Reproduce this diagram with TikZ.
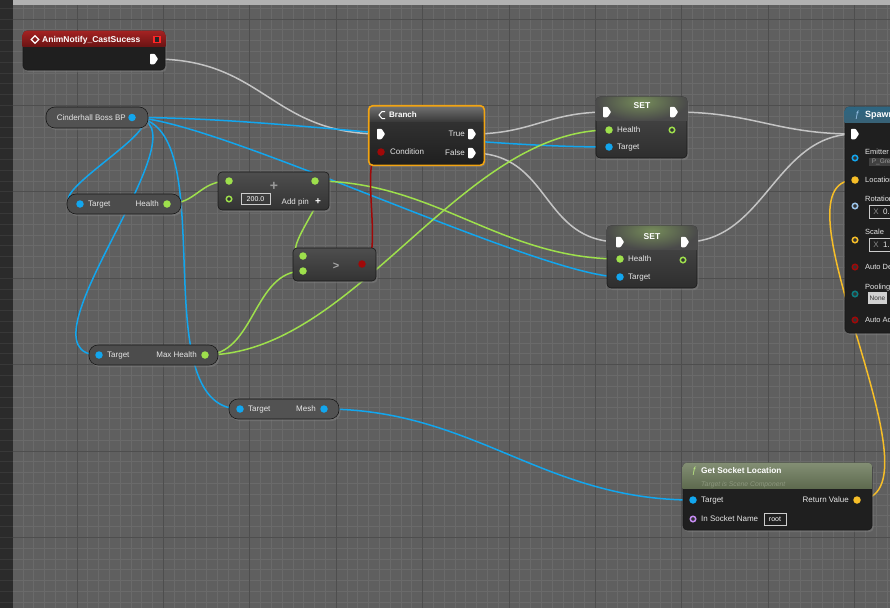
\documentclass[tikz,border=0pt]{standalone}
\usepackage{fontspec}
\setmainfont{Liberation Sans}
\usetikzlibrary{shapes.geometric}
\usetikzlibrary{shadows}

\definecolor{gridbg}{HTML}{5F5F5F}
\definecolor{gridminor}{HTML}{6A6A6A}
\definecolor{gridmajor}{HTML}{4E4E4E}
\definecolor{execgray}{HTML}{C4C4C4}
\definecolor{objblue}{HTML}{12A6EE}
\definecolor{floatgreen}{HTML}{9EE04C}
\definecolor{boolred}{HTML}{A00808}
\definecolor{vecyellow}{HTML}{F6BE28}
\definecolor{rotblue}{HTML}{9CC4EA}
\definecolor{namepurple}{HTML}{C68CF2}
\definecolor{enumteal}{HTML}{0C7C80}
\definecolor{lblgray}{HTML}{E6E6E6}
\definecolor{opTop}{HTML}{4E4E4E}
\definecolor{opBot}{HTML}{333333}
\definecolor{selorange}{HTML}{F2A412}
\definecolor{evtop}{HTML}{A42222}
\definecolor{evbot}{HTML}{6A1414}

\pgfdeclarelayer{bg}
\pgfdeclarelayer{wires}
\pgfsetlayers{bg,wires,main}

\tikzset{
  bpnode/.style={rounded corners=4pt, draw=black!90, line width=0.6pt, inner sep=0pt,
    drop shadow={shadow xshift=1.5pt, shadow yshift=-2pt, opacity=0.5}},
  varnode/.style={bpnode, rounded corners=9pt},
  opnode/.style={bpnode, top color=opTop, bottom color=opBot},
  execpin/.style={minimum width=8pt, minimum height=10.5pt, inner sep=0pt,
    path picture={\fill[white, rounded corners=0.8pt] (path picture bounding box.north west)
      -- ([xshift=-3.5pt]path picture bounding box.north east) -- (path picture bounding box.east)
      -- ([xshift=-3.5pt]path picture bounding box.south east) -- (path picture bounding box.south west) -- cycle;}},
  pinf/.style={circle, inner sep=0pt, minimum size=7.5pt, fill=#1},
  pinh/.style={circle, inner sep=0pt, minimum size=5.5pt, draw=#1, line width=1.5pt, fill=black!80},
  lbl/.style={inner sep=0pt, text=lblgray, font=\fontsize{8}{9}\selectfont},
  splbl/.style={lbl, anchor=mid west, font=\fontsize{7.5}{8}\selectfont},
  ttl/.style={inner sep=0pt, text=white, font=\bfseries\fontsize{8.5}{10}\selectfont},
  wire/.style={line width=1.5pt},
  valbox/.style={draw=white!80!black, line width=0.5pt, inner sep=0pt, text=white, font=\fontsize{7}{8}\selectfont},
}

% header strip clipped to the node outline
\newcommand{\nodehead}[3]{%
  \begin{scope}
    \clip[rounded corners=4pt] (#1.north west) rectangle (#1.south east);
    \shade[#3] (#1.north west) rectangle ([yshift=-#2]#1.north east);
  \end{scope}}

\begin{document}
\begin{tikzpicture}[x=1pt, y=-1pt]
\useasboundingbox (0,0) rectangle (890,608);

% grid
\begin{pgfonlayer}{bg}
\fill[gridbg] (0,0) rectangle (890,608);
\foreach \k in {-7,...,75}
  \draw[gridminor, line width=0.8pt] ({77+\k*10.8},0) -- ({77+\k*10.8},608);
\foreach \k in {-1,...,55}
  \draw[gridminor, line width=0.8pt] (0,{19+\k*10.8}) -- (890,{19+\k*10.8});
\foreach \k in {-1,...,9}
  \draw[gridmajor, line width=1pt] ({77+\k*86.4},0) -- ({77+\k*86.4},608);
\foreach \k in {0,...,7}
  \draw[gridmajor, line width=1pt] (0,{19+\k*86.4}) -- (890,{19+\k*86.4});
\fill[black!83] (0,0) rectangle (12.5,608);
\foreach \k in {-1,...,55}
  \draw[black!78, line width=0.8pt] (0,{19+\k*10.8}) -- (12.5,{19+\k*10.8});
\fill[black!30] (13,0) rectangle (890,4.5);
\end{pgfonlayer}

% event node
\node (cast) at (94,50.5) [bpnode, fill=black!88, minimum width=142pt, minimum height=39pt] {};
\nodehead{cast}{16pt}{top color=evtop, bottom color=evbot}
\node (castIcon) at (35,39.5) [diamond, draw=white, line width=1.1pt, inner sep=0pt, minimum size=8pt] {};
\node (castTitle) at (42,39.5) [ttl, anchor=mid west] {AnimNotify\_CastSucess};
\node (castDel) at (157,39.5) [draw=red!85!white, fill=black!85, line width=1.1pt, inner sep=0pt, minimum size=6pt] {};
\node (castExec) at (154,59) [execpin] {};

% self reference
\node (boss) at (97,117.5) [varnode, minimum width=102pt, minimum height=21pt,
  left color=black!68, middle color=objblue!45!black!75, right color=black!68] {};
\node (bossLbl) at (126,117.5) [lbl, anchor=mid east] {Cinderhall Boss BP};
\node (bossPin) at (132,117.5) [pinf=objblue] {};

% get Health
\node (hget) at (124,204) [varnode, minimum width=114pt, minimum height=20pt,
  left color=black!70, middle color=floatgreen!45!black!80, right color=black!70] {};
\node (hgetTgt) at (80,204) [pinf=objblue] {};
\node (hgetTgtLbl) at (88,204) [lbl, anchor=mid west] {Target};
\node (hgetLbl) at (159,204) [lbl, anchor=mid east] {Health};
\node (hgetOut) at (167,204) [pinf=floatgreen] {};

% add
\node (addn) at (273.5,191) [opnode, minimum width=111pt, minimum height=38pt] {};
\node (addA) at (229,181) [pinf=floatgreen] {};
\node (addB) at (229,199) [pinh=floatgreen] {};
\node (addVal) at (255.5,199) [valbox, minimum width=29pt, minimum height=11pt] {200.0};
\node (addPlusBig) at (274,186) [inner sep=0pt, text=black!40, font=\bfseries\fontsize{14}{14}\selectfont] {+};
\node (addPinLbl) at (309,202) [lbl, anchor=mid east] {Add pin};
\node (addPinPlus) at (318,202) [inner sep=0pt, text=white, font=\bfseries\fontsize{10}{10}\selectfont] {+};
\node (addOut) at (315,181) [pinf=floatgreen] {};

% greater
\node (gtn) at (334.5,264.5) [opnode, minimum width=83pt, minimum height=33pt] {};
\node (gtA) at (303,256) [pinf=floatgreen] {};
\node (gtB) at (303,271) [pinf=floatgreen] {};
\node (gtSym) at (336,266) [inner sep=0pt, text=black!35, font=\bfseries\fontsize{11}{11}\selectfont] {>};
\node (gtOut) at (362,264) [pinf=boolred] {};

% branch
\node (br) at (426.5,135.5) [bpnode, top color=black!78, bottom color=black!88, minimum width=115pt, minimum height=59pt] {};
\nodehead{br}{16pt}{top color=black!55, bottom color=black!78}
\draw[selorange, line width=1.6pt, rounded corners=4pt] (br.north west) rectangle (br.south east);
\draw[white, line width=1pt] (385,111.5) -- (382,111.5) -- (379,115) -- (382,118.5) -- (385,118.5);
\node (brTitle) at (389,115) [ttl, anchor=mid west, font=\bfseries\fontsize{8}{9}\selectfont] {Branch};
\node (brIn) at (381,134) [execpin] {};
\node (brTrueLbl) at (465,134) [lbl, anchor=mid east] {True};
\node (brTrue) at (472,134) [execpin] {};
\node (brCond) at (381,152) [pinf=boolred] {};
\node (brCondLbl) at (390,152) [lbl, anchor=mid west] {Condition};
\node (brFalseLbl) at (465,153) [lbl, anchor=mid east] {False};
\node (brFalse) at (472,153) [execpin] {};

% set Health (top)
\node (set1) at (641.5,127.5) [bpnode, top color=black!70, bottom color=black!82, minimum width=91pt, minimum height=61pt] {};
\begin{scope}
  \clip[rounded corners=4pt] (set1.north west) rectangle (set1.south east);
  \shade[inner color=floatgreen!45!black!75, outer color=black!71] ([yshift=14pt]set1.north west) rectangle ([yshift=-24pt]set1.north east);
\end{scope}
\node (set1Title) at (642,106) [ttl] {SET};
\node (s1In) at (607,112) [execpin] {};
\node (s1Out) at (674,112) [execpin] {};
\node (s1Hp) at (609,130) [pinf=floatgreen] {};
\node (s1HpLbl) at (617,130) [lbl, anchor=mid west] {Health};
\node (s1Ho) at (672,130) [pinh=floatgreen] {};
\node (s1Tgt) at (609,147) [pinf=objblue] {};
\node (s1TgtLbl) at (617,147) [lbl, anchor=mid west] {Target};

% set Health (bottom)
\node (set2) at (652,257) [bpnode, top color=black!70, bottom color=black!82, minimum width=90pt, minimum height=62pt] {};
\begin{scope}
  \clip[rounded corners=4pt] (set2.north west) rectangle (set2.south east);
  \shade[inner color=floatgreen!45!black!75, outer color=black!71] ([yshift=14pt]set2.north west) rectangle ([yshift=-24pt]set2.north east);
\end{scope}
\node (set2Title) at (652,237) [ttl] {SET};
\node (s2In) at (620,242) [execpin] {};
\node (s2Out) at (685,242) [execpin] {};
\node (s2Hp) at (620,259) [pinf=floatgreen] {};
\node (s2HpLbl) at (628,259) [lbl, anchor=mid west] {Health};
\node (s2Ho) at (683,260) [pinh=floatgreen] {};
\node (s2Tgt) at (620,277) [pinf=objblue] {};
\node (s2TgtLbl) at (628,277) [lbl, anchor=mid west] {Target};

% spawn emitter
\node (spawn) at (922.5,220) [bpnode, fill=black!88, minimum width=155pt, minimum height=226pt] {};
\nodehead{spawn}{16pt}{top color=objblue!45!black!85!white, bottom color=objblue!35!black!80}
\node (spF) at (857,115) [inner sep=0pt, text=rotblue, font=\itshape\fontsize{9}{9}\selectfont] {ƒ};
\node (spTitle) at (865,115) [ttl, anchor=mid west, font=\bfseries\fontsize{9}{10}\selectfont] {Spawn};
\node (spIn) at (855,134) [execpin] {};
\node (spEm) at (855,158) [pinh=objblue] {};
\node (spEmLbl) at (865,152) [splbl] {Emitter};
\node (spEmBox) at (869,162) [anchor=west, fill=black!75, text=black!40, inner sep=1pt, minimum width=24pt, align=left, font=\fontsize{6.5}{7}\selectfont] {P\_Gre};
\node (spLoc) at (855,180) [pinf=vecyellow] {};
\node (spLocLbl) at (865,180) [splbl] {Location};
\node (spRot) at (855,206) [pinh=rotblue] {};
\node (spRotLbl) at (865,199) [splbl] {Rotation};
\node (spRotBox) at (869,212) [valbox, anchor=west, minimum width=40pt, minimum height=13pt] {};
\node (spRotX) at (876,212) [lbl, text=black!45] {X};
\node (spRotV) at (883,212) [lbl, anchor=mid west, font=\fontsize{8}{9}\selectfont] {0.};
\node (spScl) at (855,240) [pinh=vecyellow] {};
\node (spSclLbl) at (865,232) [splbl] {Scale};
\node (spSclBox) at (869,245) [valbox, anchor=west, minimum width=40pt, minimum height=13pt] {};
\node (spSclX) at (876,245) [lbl, text=black!45] {X};
\node (spSclV) at (883,245) [lbl, anchor=mid west, font=\fontsize{8}{9}\selectfont] {1.};
\node (spAD) at (855,267) [pinh=boolred] {};
\node (spADLbl) at (865,267) [splbl] {Auto Destroy};
\node (spPool) at (855,294) [pinh=enumteal] {};
\node (spPoolLbl) at (865,287) [splbl] {Pooling Method};
\node (spPoolBox) at (868,298) [anchor=west, fill=black!18, text=black!80, inner sep=1.5pt, minimum height=12pt, font=\fontsize{6.5}{7}\selectfont] {None};
\node (spAA) at (855,320) [pinh=boolred] {};
\node (spAALbl) at (865,320) [splbl] {Auto Activate};

% get Max Health
\node (mhget) at (153.5,355) [varnode, minimum width=129pt, minimum height=20pt,
  left color=black!70, middle color=floatgreen!45!black!80, right color=black!70] {};
\node (mhTgt) at (99,355) [pinf=objblue] {};
\node (mhTgtLbl) at (107,355) [lbl, anchor=mid west] {Target};
\node (mhLbl) at (197,355) [lbl, anchor=mid east] {Max Health};
\node (mhOut) at (205,355) [pinf=floatgreen] {};

% get Mesh
\node (mget) at (284,409) [varnode, minimum width=110pt, minimum height=20pt,
  left color=black!68, middle color=objblue!45!black!75, right color=black!68] {};
\node (mgTgt) at (240,409) [pinf=objblue] {};
\node (mgTgtLbl) at (248,409) [lbl, anchor=mid west] {Target};
\node (mgLbl) at (316,409) [lbl, anchor=mid east] {Mesh};
\node (mgOut) at (324,409) [pinf=objblue] {};

% get socket location
\node (gsl) at (777.5,496.5) [bpnode, fill=black!88, minimum width=189pt, minimum height=67pt] {};
\nodehead{gsl}{26pt}{top color=floatgreen!30!black!60!white, bottom color=floatgreen!25!black!75}
\node (gslF) at (694,471) [inner sep=0pt, text=floatgreen!70!white, font=\itshape\fontsize{9}{9}\selectfont] {ƒ};
\node (gslTitle) at (701,471) [ttl, anchor=mid west, font=\bfseries\fontsize{8.3}{10}\selectfont] {Get Socket Location};
\node (gslSub) at (701,484) [inner sep=0pt, anchor=mid west, text=floatgreen!30!black!55!white, font=\itshape\fontsize{6.8}{8}\selectfont] {Target is Scene Component};
\node (gslTgt) at (693,500) [pinf=objblue] {};
\node (gslTgtLbl) at (701,500) [lbl, anchor=mid west] {Target};
\node (gslRetLbl) at (849,500) [lbl, anchor=mid east] {Return Value};
\node (gslRet) at (857,500) [pinf=vecyellow] {};
\node (gslSock) at (693,519) [pinh=namepurple] {};
\node (gslSockLbl) at (701,519) [lbl, anchor=mid west] {In Socket Name};
\node (gslRoot) at (775,519) [valbox, minimum width=22pt, minimum height=12pt] {root};

% wires
\begin{pgfonlayer}{wires}
\draw[wire, execgray] (castExec.center) .. controls +(110,0) and +(-110,0) .. (brIn.center);
\draw[wire, execgray] (brTrue.center) .. controls +(60,0) and +(-60,0) .. (s1In.center);
\draw[wire, execgray] (brFalse.center) .. controls +(80,0) and +(-80,0) .. (s2In.center);
\draw[wire, execgray] (s1Out.center) .. controls +(80,0) and +(-80,0) .. (spIn.center);
\draw[wire, execgray] (s2Out.center) .. controls +(80,0) and +(-80,0) .. (spIn.center);

\draw[wire, objblue] (bossPin.center) .. controls +(55,0) and +(-55,0) .. (hgetTgt.center);
\draw[wire, objblue] (bossPin.center) .. controls +(85,0) and +(-90,0) .. (mhTgt.center);
\draw[wire, objblue] (bossPin.center) .. controls +(95,0) and +(-100,0) .. (mgTgt.center);
\draw[wire, objblue] (bossPin.center) .. controls +(150,0) and +(-150,0) .. (s1Tgt.center);
\draw[wire, objblue] (bossPin.center) .. controls +(80,0) and +(-80,0) .. (s2Tgt.center);
\draw[wire, objblue] (mgOut.center) .. controls +(150,0) and +(-150,0) .. (gslTgt.center);

\draw[wire, floatgreen] (hgetOut.center) .. controls +(30,0) and +(-30,0) .. (addA.center);
\draw[wire, floatgreen] (addOut.center) .. controls +(30,0) and +(-30,0) .. (gtA.center);
\draw[wire, floatgreen] (addOut.center) .. controls +(120,0) and +(-120,0) .. (s2Hp.center);
\draw[wire, floatgreen] (mhOut.center) .. controls +(50,0) and +(-50,0) .. (gtB.center);
\draw[wire, floatgreen] (mhOut.center) .. controls +(150,0) and +(-150,0) .. (s1Hp.center);

\draw[wire, boolred] (gtOut.center) .. controls +(25,0) and +(-25,0) .. (brCond.center);
\draw[wire, vecyellow] (gslRet.center) .. controls +(95,0) and +(-90,0) .. (spLoc.center);
\end{pgfonlayer}

\end{tikzpicture}
\end{document}
